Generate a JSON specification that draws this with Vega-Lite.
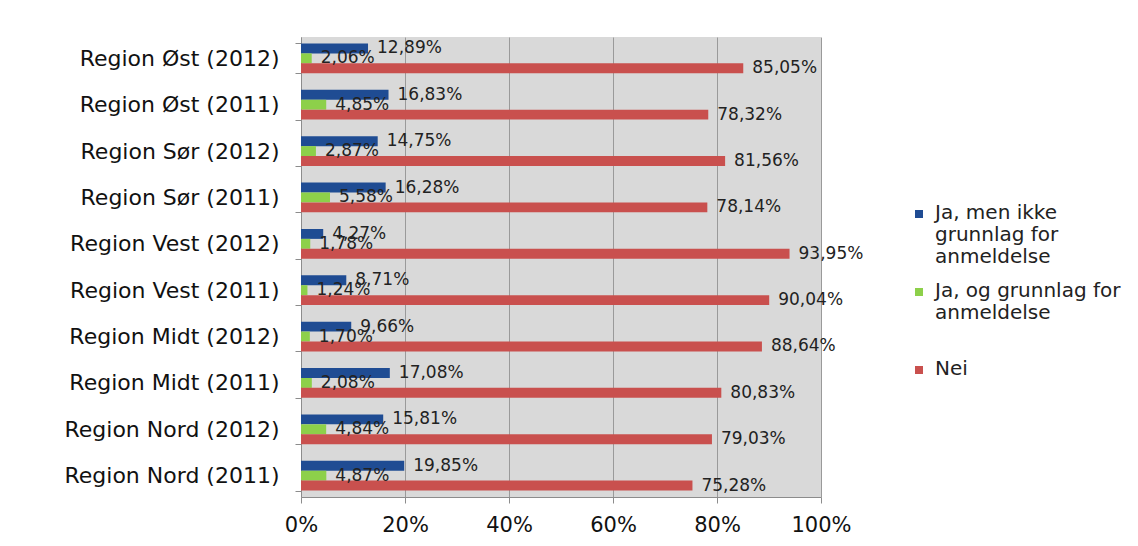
{
  "$schema": "https://vega.github.io/schema/vega-lite/v6.json",
  "autosize": "none",
  "width": 520,
  "height": 460,
  "padding": {"left": 301, "top": 37, "right": 317, "bottom": 49},
  "background": "white",
  "data": {
    "values": [
      {"region": "Region Øst (2012)", "svar": "Ja, men ikke grunnlag for anmeldelse", "andel": 0.1289},
      {"region": "Region Øst (2012)", "svar": "Ja, og grunnlag for anmeldelse", "andel": 0.0206},
      {"region": "Region Øst (2012)", "svar": "Nei", "andel": 0.8505},
      {"region": "Region Øst (2011)", "svar": "Ja, men ikke grunnlag for anmeldelse", "andel": 0.1683},
      {"region": "Region Øst (2011)", "svar": "Ja, og grunnlag for anmeldelse", "andel": 0.0485},
      {"region": "Region Øst (2011)", "svar": "Nei", "andel": 0.7832},
      {"region": "Region Sør (2012)", "svar": "Ja, men ikke grunnlag for anmeldelse", "andel": 0.1475},
      {"region": "Region Sør (2012)", "svar": "Ja, og grunnlag for anmeldelse", "andel": 0.0287},
      {"region": "Region Sør (2012)", "svar": "Nei", "andel": 0.8156},
      {"region": "Region Sør (2011)", "svar": "Ja, men ikke grunnlag for anmeldelse", "andel": 0.1628},
      {"region": "Region Sør (2011)", "svar": "Ja, og grunnlag for anmeldelse", "andel": 0.0558},
      {"region": "Region Sør (2011)", "svar": "Nei", "andel": 0.7814},
      {"region": "Region Vest (2012)", "svar": "Ja, men ikke grunnlag for anmeldelse", "andel": 0.0427},
      {"region": "Region Vest (2012)", "svar": "Ja, og grunnlag for anmeldelse", "andel": 0.0178},
      {"region": "Region Vest (2012)", "svar": "Nei", "andel": 0.9395},
      {"region": "Region Vest (2011)", "svar": "Ja, men ikke grunnlag for anmeldelse", "andel": 0.0871},
      {"region": "Region Vest (2011)", "svar": "Ja, og grunnlag for anmeldelse", "andel": 0.0124},
      {"region": "Region Vest (2011)", "svar": "Nei", "andel": 0.9004},
      {"region": "Region Midt (2012)", "svar": "Ja, men ikke grunnlag for anmeldelse", "andel": 0.0966},
      {"region": "Region Midt (2012)", "svar": "Ja, og grunnlag for anmeldelse", "andel": 0.0170},
      {"region": "Region Midt (2012)", "svar": "Nei", "andel": 0.8864},
      {"region": "Region Midt (2011)", "svar": "Ja, men ikke grunnlag for anmeldelse", "andel": 0.1708},
      {"region": "Region Midt (2011)", "svar": "Ja, og grunnlag for anmeldelse", "andel": 0.0208},
      {"region": "Region Midt (2011)", "svar": "Nei", "andel": 0.8083},
      {"region": "Region Nord (2012)", "svar": "Ja, men ikke grunnlag for anmeldelse", "andel": 0.1581},
      {"region": "Region Nord (2012)", "svar": "Ja, og grunnlag for anmeldelse", "andel": 0.0484},
      {"region": "Region Nord (2012)", "svar": "Nei", "andel": 0.7903},
      {"region": "Region Nord (2011)", "svar": "Ja, men ikke grunnlag for anmeldelse", "andel": 0.1985},
      {"region": "Region Nord (2011)", "svar": "Ja, og grunnlag for anmeldelse", "andel": 0.0487},
      {"region": "Region Nord (2011)", "svar": "Nei", "andel": 0.7528}
    ]
  },
  "encoding": {
    "y": {
      "field": "region",
      "type": "nominal",
      "sort": null,
      "title": null,
      "scale": {"paddingInner": 0.36, "paddingOuter": 0.14},
      "axis": {
        "labelFont": "DejaVu Sans",
        "labelFontSize": 22,
        "labelColor": "#111111",
        "labelPadding": 16,
        "tickBand": "extent",
        "tickColor": "#8c8c8c",
        "tickSize": 6,
        "domainColor": "#8c8c8c",
        "labelLimit": 400
      }
    },
    "yOffset": {
      "field": "svar",
      "type": "nominal",
      "sort": ["Ja, men ikke grunnlag for anmeldelse", "Ja, og grunnlag for anmeldelse", "Nei"]
    },
    "x": {
      "field": "andel",
      "type": "quantitative",
      "title": null,
      "scale": {"domain": [0, 1], "nice": false},
      "axis": {
        "values": [0, 0.2, 0.4, 0.6, 0.8, 1],
        "format": ".0%",
        "labelFont": "DejaVu Sans",
        "labelFontSize": 21,
        "labelColor": "#111111",
        "labelPadding": 11,
        "labelFlush": false,
        "labelOverlap": false,
        "grid": true,
        "gridColor": "#9a9a9a",
        "gridWidth": 1,
        "tickColor": "#8c8c8c",
        "tickSize": 6,
        "domainColor": "#8c8c8c"
      }
    }
  },
  "layer": [
    {
      "mark": {"type": "bar"},
      "encoding": {
        "color": {
          "field": "svar",
          "type": "nominal",
          "sort": ["Ja, men ikke grunnlag for anmeldelse", "Ja, og grunnlag for anmeldelse", "Nei"],
          "scale": {"range": ["#1F4C93", "#8DD04A", "#C9504E"]},
          "legend": {
            "title": null,
            "orient": "none",
            "legendX": 608,
            "legendY": 156,
            "padding": 0,
            "symbolType": "M-1,1.75H1V3.75H-1Z",
            "symbolSize": 64,
            "symbolStrokeWidth": 0,
            "labelFont": "DejaVu Sans",
            "labelFontSize": 20,
            "labelLineHeight": 22,
            "labelColor": "#222222",
            "labelLimit": 300,
            "labelOffset": 6,
            "labelBaseline": "top",
            "labelExpr": "datum.label == 'Nei' ? ['Nei', '', ''] : (datum.label == 'Ja, og grunnlag for anmeldelse' ? ['Ja, og grunnlag for', 'anmeldelse', ''] : ['Ja, men ikke', 'grunnlag for', 'anmeldelse'])",
            "rowPadding": 4
          }
        }
      }
    },
    {
      "mark": {
        "type": "text",
        "align": "left",
        "baseline": "middle",
        "dx": 9,
        "font": "DejaVu Sans",
        "fontSize": 17,
        "color": "#222222"
      },
      "encoding": {
        "text": {"field": "andel", "type": "quantitative", "format": ".2%"}
      }
    }
  ],
  "config": {
    "locale": {
      "number": {
        "decimal": ",",
        "thousands": " ",
        "grouping": [3],
        "currency": ["", " kr"]
      }
    },
    "view": {"fill": "#d9d9d9", "stroke": null}
  }
}
